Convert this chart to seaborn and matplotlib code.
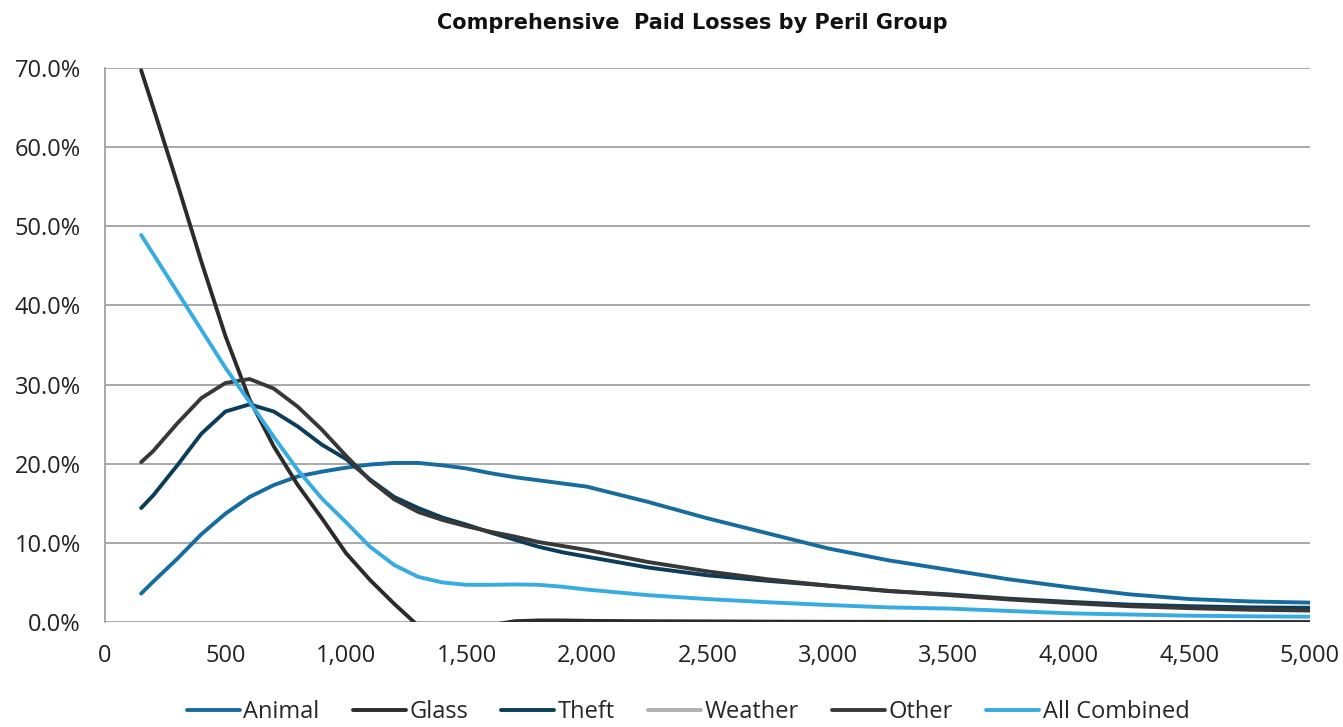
import pandas as pd
import matplotlib
matplotlib.use("Agg")
import matplotlib.pyplot as plt
import matplotlib.ticker as mticker
import seaborn as sns

# loss size (x) points
loss_size = [150, 200, 300, 400, 500, 600, 700, 800, 900, 1000, 1100, 1200, 1300,
             1400, 1500, 1600, 1700, 1800, 1900, 2000, 2250, 2500, 2750, 3000,
             3250, 3500, 3750, 4000, 4250, 4500, 4750, 5000]

# share of paid losses in %, per peril group
animal = [3.6, 5.1, 8.0, 11.1, 13.7, 15.8, 17.3, 18.4, 19.0, 19.5, 19.9, 20.1, 20.1,
          19.8, 19.4, 18.8, 18.3, 17.9, 17.5, 17.1, 15.2, 13.1, 11.2, 9.3,
          7.8, 6.6, 5.4, 4.4, 3.5, 2.9, 2.6, 2.45]
glass = [69.7, 65.0, 55.4, 45.5, 36.1, 28.1, 22.2, 17.3, 13.1, 8.7, 5.3, 2.3, -0.5,
         -1.0, -1.0, -0.4, 0.1, 0.2, 0.2, 0.15, 0.1, 0.08, 0.05, 0.03,
         0.02, 0.01, 0.0, 0.0, 0.0, 0.0, 0.0, 0.0]
theft = [14.4, 16.0, 19.8, 23.8, 26.6, 27.5, 26.6, 24.7, 22.4, 20.6, 18.0, 15.8, 14.4,
         13.2, 12.3, 11.3, 10.4, 9.5, 8.8, 8.25, 6.9, 5.9, 5.2, 4.6,
         3.9, 3.5, 2.95, 2.55, 2.2, 2.0, 1.85, 1.8]
weather = []  # listed in the legend, no visible line
other = [20.2, 21.6, 25.1, 28.3, 30.2, 30.7, 29.5, 27.2, 24.3, 21.0, 17.9, 15.5, 13.9,
         12.9, 12.1, 11.4, 10.8, 10.1, 9.6, 9.1, 7.6, 6.4, 5.4, 4.6,
         3.95, 3.4, 2.85, 2.4, 2.0, 1.75, 1.55, 1.45]
all_combined = [48.9, 46.5, 41.7, 36.9, 32.1, 27.8, 23.4, 19.2, 15.6, 12.6, 9.5, 7.2, 5.7,
                5.0, 4.7, 4.7, 4.75, 4.7, 4.45, 4.1, 3.4, 2.9, 2.5, 2.15,
                1.85, 1.7, 1.4, 1.1, 0.95, 0.8, 0.72, 0.67]

series = {"Animal": animal, "Glass": glass, "Theft": theft, "Weather": weather,
          "Other": other, "All Combined": all_combined}
colors = {"Animal": "#166c9e", "Glass": "#2b2b2b", "Theft": "#0b3d5a",
          "Weather": "#b0b0b0", "Other": "#383838", "All Combined": "#36ace2"}

sns.set_style("white")
plt.rcParams["font.family"] = ["Open Sans", "DejaVu Sans"]

fig = plt.figure(figsize=(13.43, 7.27), dpi=100)
ax = fig.add_axes([0.0782, 0.1444, 0.8972, 0.7621])

for name, vals in series.items():
    if len(vals) == 0:
        ax.plot([], [], color=colors[name], lw=2.8, label=name)
        continue
    df = pd.DataFrame({"loss": loss_size, "pct": vals})
    sns.lineplot(data=df, x="loss", y="pct", color=colors[name], lw=2.8,
                 label=name, ax=ax, sort=False, solid_capstyle="round",
                 solid_joinstyle="round")

ax.set_xlim(0, 5000)
ax.set_ylim(0, 70)
ax.set_xticks(range(0, 5001, 500))
ax.set_yticks(range(0, 71, 10))
ax.xaxis.set_major_formatter(mticker.FuncFormatter(lambda v, p: f"{int(v):,}"))
ax.yaxis.set_major_formatter(mticker.FuncFormatter(lambda v, p: f"{v:.1f}%"))
ax.grid(axis="y", color="#9a9a9a", lw=1.2)
ax.set_axisbelow(True)
for s in ["top", "right", "bottom"]:
    ax.spines[s].set_visible(False)
ax.spines["left"].set_color("#9a9a9a")
ax.spines["left"].set_linewidth(1.2)
ax.tick_params(axis="x", direction="out", length=6.5, width=1.2, color="#9a9a9a",
               labelsize=17, labelcolor="#222222", pad=9)
ax.tick_params(axis="y", direction="out", length=6.5, width=1.2, color="#9a9a9a",
               labelsize=17, labelcolor="#222222", pad=11)
ax.set_xlabel("")
ax.set_ylabel("")

fig.text(0.5155, 0.969, "Comprehensive  Paid Losses by Peril Group", ha="center",
         va="center", fontsize=15, fontweight="bold", color="#111111",
         family="DejaVu Sans")

ax.legend(loc="center", bbox_to_anchor=(0.484, -0.1625), ncol=6, frameon=False,
          fontsize=17, handlelength=2.25, handletextpad=0.15, columnspacing=1.4)

fig.savefig("out.png", dpi=100)
